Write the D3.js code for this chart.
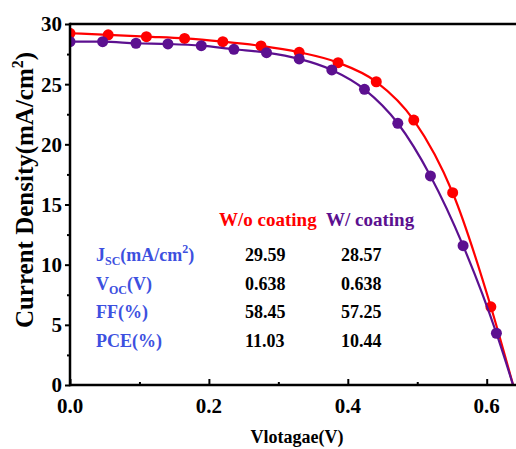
<!DOCTYPE html>
<html>
<head>
<meta charset="utf-8">
<script src="https://cdn.jsdelivr.net/npm/d3@7"></script>
<style>
  html, body { margin: 0; padding: 0; background: #fff; }
  svg { display: block; }
  text { font-family: "Liberation Serif", "Times New Roman", serif; font-weight: bold; }
</style>
</head>
<body>
<svg id="chart" width="516" height="449"></svg>
<script>
// J-V curves: voltage (V) vs current density (mA/cm2)
const uncoatedV = [0, 0.055, 0.110, 0.165, 0.220, 0.275, 0.330, 0.386, 0.441, 0.495, 0.551, 0.606];
const uncoatedJ = [29.23, 29.10, 28.95, 28.80, 28.53, 28.18, 27.65, 26.79, 25.20, 22.02, 15.98, 6.50];
const coatedV = [0, 0.047, 0.095, 0.141, 0.189, 0.236, 0.283, 0.330, 0.377, 0.424, 0.472, 0.519, 0.566, 0.614];
const coatedJ = [28.53, 28.53, 28.40, 28.34, 28.20, 27.90, 27.62, 27.10, 26.18, 24.57, 21.75, 17.37, 11.58, 4.30];

// Parameter table
const seriesNames = ["W/o coating", "W/ coating"];
const uncoatedParams = ["29.59", "0.638", "58.45", "11.03"];
const coatedParams = ["28.57", "0.638", "57.25", "10.44"];
const vocValues = [0.638, 0.638];

const xTicks = [0.0, 0.2, 0.4, 0.6];
const xMinorTicks = [0.1, 0.3, 0.5];
const yTicks = [0, 5, 10, 15, 20, 25, 30];
const yMinorTicks = [2.5, 7.5, 12.5, 17.5, 22.5, 27.5];

const RED = "#ff0000";
const PURPLE = "#5c1090";
const BLUE = "#3d50e0";

const svg = d3.select("#chart");
const plotLeft = 70, plotTop = 24, plotBottom = 385;

const x = d3.scaleLinear().domain([0, 0.65]).range([plotLeft, plotLeft + 0.65 * 694.5]);
const y = d3.scaleLinear().domain([0, 30]).range([plotBottom, plotTop]);

svg.append("defs").append("clipPath").attr("id", "plotClip")
  .append("rect").attr("x", plotLeft).attr("y", plotTop)
  .attr("width", x(0.65) - plotLeft).attr("height", plotBottom - plotTop);

const plot = svg.append("g").attr("clip-path", "url(#plotClip)");

function drawSeries(vs, js, voc, color) {
  const pts = vs.map((v, i) => [v, js[i]]);
  const linePts = pts.concat([[voc, 0]]);
  const line = d3.line().x(d => x(d[0])).y(d => y(d[1])).curve(d3.curveMonotoneX);
  plot.append("path").datum(linePts)
    .attr("d", line).attr("fill", "none")
    .attr("stroke", color).attr("stroke-width", 2.2);
  plot.selectAll(null).data(pts).enter().append("circle")
    .attr("cx", d => x(d[0])).attr("cy", d => y(d[1]))
    .attr("r", 5.5).attr("fill", color);
}
drawSeries(uncoatedV, uncoatedJ, vocValues[0], RED);
drawSeries(coatedV, coatedJ, vocValues[1], PURPLE);

// Frame lines
const axisG = svg.append("g").attr("stroke", "#000").attr("stroke-width", 2.5);
axisG.append("line").attr("x1", plotLeft).attr("x2", 516).attr("y1", plotTop).attr("y2", plotTop);
axisG.append("line").attr("x1", plotLeft).attr("x2", 516).attr("y1", plotBottom).attr("y2", plotBottom);
axisG.append("line").attr("x1", plotLeft).attr("x2", plotLeft)
  .attr("y1", plotTop - 1.2).attr("y2", plotBottom + 1.2);

// x ticks (inward)
function tickGroup(axis, transform) {
  svg.append("g").attr("transform", transform).call(axis)
    .call(g => g.select(".domain").remove())
    .call(g => g.selectAll("line").attr("stroke-width", 2));
}
tickGroup(d3.axisTop(x).tickValues(xTicks).tickSize(6).tickFormat(""), `translate(0,${plotBottom})`);
tickGroup(d3.axisTop(x).tickValues(xMinorTicks).tickSize(3).tickFormat(""), `translate(0,${plotBottom})`);

svg.append("g").selectAll("text").data(xTicks).enter().append("text")
  .attr("x", d => x(d)).attr("y", 413).attr("text-anchor", "middle")
  .attr("font-size", 21).text(d => d3.format(".1f")(d));

// y ticks (outward)
tickGroup(d3.axisLeft(y).tickValues(yTicks).tickSize(5).tickFormat(""), `translate(${plotLeft},0)`);
tickGroup(d3.axisLeft(y).tickValues(yMinorTicks).tickSize(3).tickFormat(""), `translate(${plotLeft},0)`);

svg.append("g").selectAll("text").data(yTicks).enter().append("text")
  .attr("x", 62).attr("y", d => y(d)).attr("dy", "0.35em").attr("text-anchor", "end")
  .attr("font-size", 21).text(d => d);

// Axis titles
svg.append("text").attr("x", 297).attr("y", 443).attr("text-anchor", "middle")
  .attr("font-size", 18).text("Vlotagae(V)");

const yTitle = svg.append("text")
  .attr("transform", "translate(33,190) rotate(-90)")
  .attr("text-anchor", "middle").attr("font-size", 25);
yTitle.append("tspan").text("Current Density(mA/cm");
yTitle.append("tspan").attr("font-size", 16).attr("dy", -10).text("2");
yTitle.append("tspan").attr("dy", 10).text(")");

// Parameter table
svg.append("text").attr("x", 219).attr("y", 226).attr("font-size", 19)
  .attr("fill", RED).text(seriesNames[0]);
svg.append("text").attr("x", 326).attr("y", 226).attr("font-size", 19)
  .attr("fill", PURPLE).text(seriesNames[1]);

const rowY = [261, 289.5, 318, 347];
const labelG = svg.append("g").attr("fill", BLUE);
function paramLabel(i, main, sub, rest, sup, tail) {
  const t = labelG.append("text").attr("x", 96).attr("y", rowY[i]).attr("font-size", 18);
  t.append("tspan").text(main);
  if (sub) t.append("tspan").attr("font-size", 12).attr("dy", 4).text(sub);
  if (rest) t.append("tspan").attr("dy", sub ? -4 : 0).text(rest);
  if (sup) {
    t.append("tspan").attr("font-size", 12).attr("dy", -8).text(sup);
    t.append("tspan").attr("dy", 8).text(tail);
  }
}
paramLabel(0, "J", "SC", "(mA/cm", "2", ")");
paramLabel(1, "V", "OC", "(V)");
paramLabel(2, "FF(%)");
paramLabel(3, "PCE(%)");

svg.append("g").selectAll("text").data(uncoatedParams).enter().append("text")
  .attr("x", 245).attr("y", (d, i) => rowY[i]).attr("font-size", 18).text(d => d);
svg.append("g").selectAll("text").data(coatedParams).enter().append("text")
  .attr("x", 341).attr("y", (d, i) => rowY[i]).attr("font-size", 18).text(d => d);
</script>
</body>
</html>
